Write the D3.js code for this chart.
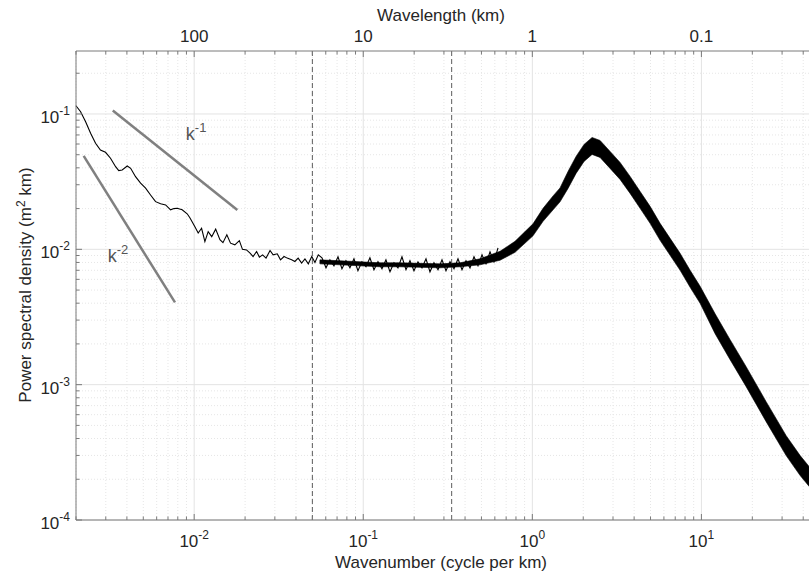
<!DOCTYPE html>
<html>
<head>
<meta charset="utf-8">
<script src="https://cdn.jsdelivr.net/npm/d3@7"></script>
<style>
  body { margin: 0; background: #fff; }
  text { font-family: "Liberation Sans", Arial, sans-serif; fill: #262626; }
</style>
</head>
<body>
<div id="chart"></div>
<script>
// spectrum, low wavenumbers (thin wiggly line)
const specK = [0.0020,0.00213,0.00228,0.00244,0.00261,0.00279,0.00299,0.00320,0.00343,0.00358,
  0.00375,0.00402,0.00421,0.00450,0.00482,0.00516,0.00552,0.00591,0.00633,0.00678,
  0.00725,0.00759,0.00793,0.00849,0.00909,0.00943,0.0101,0.01056,0.01106,0.01157,
  0.0121,0.0127,0.0134,0.0142,0.0148,0.0156,0.0164,0.0174,0.0185,0.0193,
  0.0204,0.0214,0.0223,0.0234,0.0243,0.0254,0.0266,0.0281,0.0293,0.0310,
  0.0324,0.0340,0.0355,0.0377,0.0394,0.0412,0.0432,0.0452,0.0473,0.0496,
  0.0518,0.0542,0.0570,0.0602,0.0635,0.0671,0.0709,0.0748,0.0790,0.0834,
  0.0881,0.0930,0.0982,0.1038,0.1095,0.1157,0.1222,0.1290,0.1362,0.1439,
  0.1519,0.1604,0.1694,0.1789,0.1889,0.1995,0.2107,0.2225,0.2350,0.2481,
  0.2620,0.2767,0.2922,0.3085,0.3258,0.3440,0.3633,0.3837,0.4052,0.4279,
  0.4518,0.4771,0.5039,0.5321,0.5619,0.5934,0.6266];
const specP = [0.115,0.104,0.0877,0.0721,0.0608,0.0542,0.0521,0.0471,0.0408,0.0382,
  0.0386,0.0413,0.0397,0.0344,0.0308,0.0283,0.0252,0.0225,0.0217,0.0213,
  0.0196,0.0200,0.0201,0.0196,0.0183,0.0171,0.0147,0.0132,0.0143,0.0114,
  0.0135,0.0124,0.0141,0.0118,0.0112,0.0128,0.0111,0.0108,0.0116,0.0100,
  0.0099,0.00937,0.00885,0.00964,0.00876,0.0091,0.00861,0.0098,0.0091,0.00927,
  0.00837,0.00885,0.00861,0.00837,0.00813,0.00861,0.00791,0.00848,0.00781,0.00885,
  0.0080,0.0091,0.00866,0.00730,0.00836,0.00755,0.00880,0.00718,0.00823,0.00730,
  0.00851,0.00694,0.00809,0.00743,0.00866,0.00706,0.00809,0.00718,0.00836,0.00682,
  0.00795,0.00730,0.00880,0.00706,0.00823,0.00694,0.00809,0.00730,0.00851,0.00682,
  0.00795,0.00706,0.00836,0.00694,0.00809,0.00718,0.00851,0.00706,0.00823,0.00730,
  0.00880,0.00755,0.00911,0.00781,0.00958,0.00809,0.01026];

// noisy part drawn as a band: upper / lower edge of the black trace
const bandK = [0.0554,0.0728,0.0956,0.1256,0.1649,0.2165,0.2843,0.3734,0.4903,0.6438,
  0.790,1.009,1.157,1.326,1.458,1.626,1.814,2.022,2.256,2.515,
  2.883,3.303,3.786,4.339,4.971,5.696,6.528,7.482,8.573,9.824,
  12.05,14.78,18.39,24.14,31.71,38.37,43.39,49.7];
const bandHigh = [0.00836,0.00823,0.00809,0.00795,0.00795,0.00788,0.00781,0.00795,0.00851,0.00966,
  0.01146,0.01543,0.02008,0.02482,0.02843,0.03764,0.04857,0.05955,0.06709,0.06375,
  0.05289,0.04386,0.03457,0.02680,0.02077,0.01555,0.01205,0.00934,0.00700,0.00533,
  0.00334,0.00215,0.001358,0.000749,0.000420,0.000299,0.000248,0.000209];
const bandLow = [0.00781,0.00768,0.00755,0.00743,0.00743,0.00736,0.00730,0.00743,0.00768,0.00830,
  0.00950,0.01258,0.01610,0.01957,0.02242,0.02819,0.03638,0.04461,0.05025,0.04775,
  0.03961,0.03285,0.02590,0.02008,0.01555,0.01165,0.00903,0.00700,0.00524,0.00399,
  0.00238,0.00153,0.000967,0.000533,0.000299,0.000213,0.000177,0.000149];

// reference slopes
const slope1K = [0.0033, 0.018];
const slope1P = [0.106, 0.0195];
const slope2K = [0.00222, 0.0077];
const slope2P = [0.049, 0.00405];
const slopeLabels = [
  { k: 0.00893, p: 0.0643, exp: '-1' },
  { k: 0.00308, p: 0.00809, exp: '-2' }
];

const cutoffK = [0.05, 1 / 3];
const xMajor = [0.01, 0.1, 1, 10];
const xExp = ['-2', '-1', '0', '1'];
const topLabels = ['100', '10', '1', '0.1'];
const yMajor = [1e-4, 1e-3, 1e-2, 1e-1];
const yExp = ['-4', '-3', '-2', '-1'];

const W = 809, H = 575;
const L = 76, T = 51, B = 520;

const svg = d3.select('#chart').append('svg')
  .attr('width', W).attr('height', H);

const x = d3.scaleLog().domain([0.002, 50]).range([L, 819.6]);
const y = d3.scaleLog().domain([1e-4, 0.292]).range([B, T]);

const isMajor = v => Math.abs(Math.log10(v) - Math.round(Math.log10(v))) < 1e-6;
const xt = x.ticks();
const yt = y.ticks().filter(v => v <= 0.292);

// grid
const grid = svg.append('g');
grid.selectAll('.gx').data(xt).join('line')
  .attr('x1', d => x(d)).attr('x2', d => x(d))
  .attr('y1', T).attr('y2', B)
  .attr('stroke', d => isMajor(d) ? '#e3e3e3' : '#e6e6e6')
  .attr('stroke-width', 1)
  .attr('stroke-dasharray', d => isMajor(d) ? null : '1,2');
grid.selectAll('.gy').data(yt).join('line')
  .attr('y1', d => y(d)).attr('y2', d => y(d))
  .attr('x1', L).attr('x2', W)
  .attr('stroke', d => isMajor(d) ? '#e3e3e3' : '#e6e6e6')
  .attr('stroke-width', 1)
  .attr('stroke-dasharray', d => isMajor(d) ? null : '1,2');

// band
const area = d3.area()
  .x((d, i) => x(bandK[i]))
  .y0((d, i) => y(bandLow[i]))
  .y1((d, i) => y(bandHigh[i]));
svg.append('path').datum(bandK).attr('d', area)
  .attr('fill', '#000').attr('stroke', '#000').attr('stroke-width', 0.6);

// thin spectrum line
const line = d3.line().x((d, i) => x(specK[i])).y(d => y(d));
svg.append('path').datum(specP).attr('d', line)
  .attr('fill', 'none').attr('stroke', '#000').attr('stroke-width', 1.1);

// slope lines
[[slope1K, slope1P], [slope2K, slope2P]].forEach(([ks, ps]) => {
  svg.append('path').datum(ps)
    .attr('d', d3.line().x((d, i) => x(ks[i])).y(d => y(d)))
    .attr('stroke', '#808080').attr('stroke-width', 2.5).attr('fill', 'none');
});
svg.selectAll('.sl').data(slopeLabels).join('text')
  .attr('x', d => x(d.k)).attr('y', d => y(d.p))
  .attr('font-size', 18).style('fill', '#555')
  .each(function(d) {
    const t = d3.select(this);
    t.append('tspan').text('k');
    t.append('tspan').attr('dy', -8).attr('font-size', 13).text(d.exp);
  });

// cutoff wavenumbers
svg.selectAll('.cut').data(cutoffK).join('line')
  .attr('x1', d => x(d)).attr('x2', d => x(d))
  .attr('y1', T).attr('y2', B)
  .attr('stroke', '#333').attr('stroke-width', 0.8)
  .attr('stroke-dasharray', '5,3');

// axes
const ax = svg.append('g').attr('stroke', '#7a7a7a').attr('stroke-width', 1);
ax.append('line').attr('x1', L).attr('x2', W).attr('y1', B).attr('y2', B);
ax.append('line').attr('x1', L).attr('x2', W).attr('y1', T).attr('y2', T);
ax.append('line').attr('x1', L).attr('x2', L).attr('y1', T).attr('y2', B);

xt.forEach(v => {
  const len = isMajor(v) ? 6 : 3.5;
  ax.append('line').attr('x1', x(v)).attr('x2', x(v)).attr('y1', B).attr('y2', B - len);
  ax.append('line').attr('x1', x(v)).attr('x2', x(v)).attr('y1', T).attr('y2', T + len);
});
yt.forEach(v => {
  const len = isMajor(v) ? 6 : 3.5;
  ax.append('line').attr('x1', L).attr('x2', L + len).attr('y1', y(v)).attr('y2', y(v));
});

// tick labels
svg.selectAll('.xl').data(xMajor).join('text')
  .attr('x', d => x(d)).attr('y', 547)
  .attr('text-anchor', 'middle').attr('font-size', 17)
  .each(function(d, i) {
    const t = d3.select(this);
    t.append('tspan').text('10');
    t.append('tspan').attr('dy', -8).attr('font-size', 12).text(xExp[i]);
  });
svg.selectAll('.tl').data(xMajor).join('text')
  .attr('x', d => x(d)).attr('y', 41.5)
  .attr('text-anchor', 'middle').attr('font-size', 17)
  .text((d, i) => topLabels[i]);
svg.selectAll('.yl').data(yMajor).join('text')
  .attr('x', 70).attr('y', d => y(d) + 9)
  .attr('text-anchor', 'end').attr('font-size', 17)
  .each(function(d, i) {
    const t = d3.select(this);
    t.append('tspan').text('10');
    t.append('tspan').attr('dy', -8).attr('font-size', 12).text(yExp[i]);
  });

// titles
svg.append('text').attr('x', 441).attr('y', 568)
  .attr('text-anchor', 'middle').attr('font-size', 17)
  .text('Wavenumber (cycle per km)');
svg.append('text').attr('x', 441).attr('y', 21)
  .attr('text-anchor', 'middle').attr('font-size', 17)
  .text('Wavelength (km)');
const yt2 = svg.append('text')
  .attr('transform', 'translate(31,285) rotate(-90)')
  .attr('text-anchor', 'middle').attr('font-size', 17);
yt2.append('tspan').text('Power spectral density (m');
yt2.append('tspan').attr('dy', -6).attr('font-size', 12).text('2');
yt2.append('tspan').attr('dy', 6).text(' km)');
</script>
</body>
</html>
